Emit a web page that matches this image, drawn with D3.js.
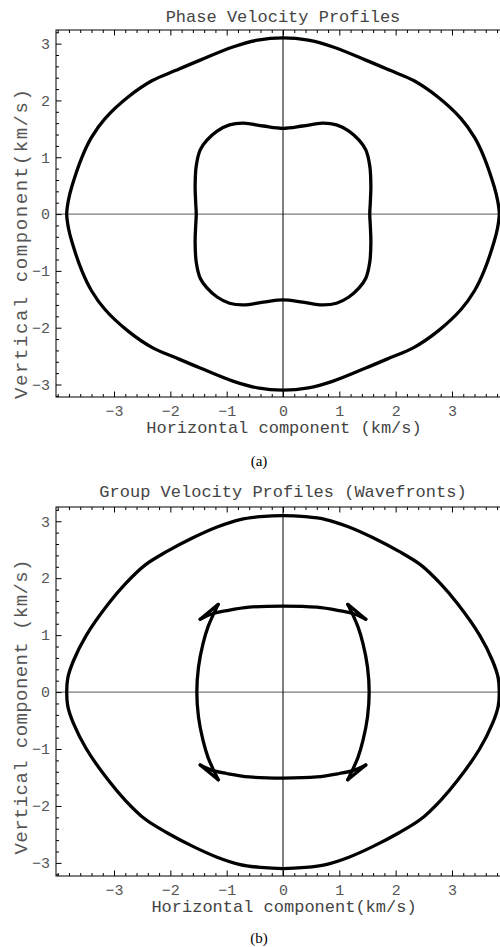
<!DOCTYPE html>
<html>
<head>
<meta charset="utf-8">
<script src="https://cdn.jsdelivr.net/npm/d3@7"></script>
<style>
  body { margin: 0; background: #fff; }
  svg { display: block; }
</style>
</head>
<body>
<div id="container"></div>
<script>
// tick values (km/s)
const majorTicks = [-3, -2, -1, 0, 1, 2, 3];
const minorTicks = d3.range(-40, 41, 2).map(d => d / 10);

// first quadrant of each profile, going from the vertical axis to the horizontal axis
const phaseOuter = [[0, 3.1], [0.45, 3.06], [0.89, 2.94], [1.47, 2.71], [1.9, 2.53], [2.32, 2.35],
  [2.75, 2.06], [3.16, 1.68], [3.4, 1.35], [3.57, 1.0], [3.75, 0.48], [3.81, 0.24], [3.84, 0]];
const phaseInner = [[0, 1.51], [0.35, 1.55], [0.7, 1.6], [0.95, 1.57], [1.17, 1.46], [1.35, 1.3],
  [1.47, 1.13], [1.54, 0.85], [1.56, 0.5], [1.55, 0.2], [1.54, 0]];
const groupOuter = [[0, 3.1], [0.4, 3.08], [0.76, 3.03], [1.17, 2.9], [1.6, 2.71], [2.06, 2.47],
  [2.45, 2.23], [2.8, 1.9], [3.1, 1.55], [3.49, 1.0], [3.72, 0.55], [3.82, 0.25], [3.84, 0]];
// wavefront with cusps: top branch ends at a cusp, side branch starts at the other cusp
const groupInnerTop = [[0, 1.51], [0.6, 1.49], [1.0, 1.43], [1.24, 1.38], [1.47, 1.28]];
const groupInnerSide = [[1.15, 1.54], [1.33, 1.15], [1.42, 0.85], [1.5, 0.44], [1.53, 0]];

const W = 500, H = 947;
const mono = '"Liberation Mono", "Courier New", monospace';
const svg = d3.select('#container').append('svg')
  .attr('width', W).attr('height', H)
  .attr('font-family', mono);

// build a closed loop from one quadrant
function loop(q) {
  const q4 = q.slice(0, -1).reverse().map(([x, y]) => [x, -y]);
  const q3 = q.slice(1).map(([x, y]) => [-x, -y]);
  const q2 = q.slice(0, -1).reverse().map(([x, y]) => [-x, y]).slice(0, -1);
  return [...q, ...q4, ...q3, ...q2];
}

const panels = [
  {
    title: 'Phase Velocity Profiles', titleY: 21.5,
    xLabel: 'Horizontal component (km/s)', yLabel: 'Vertical component(km/s)',
    caption: '(a)', top: 30, bottom: 397, yDomain: [-3.22, 3.24],
    xLabelY: 433, captionY: 466, yLabelY: 244, yLabelLen: 310,
    draw: (g, line) => {
      g.append('path').datum(loop(phaseOuter)).attr('d', line.curve(d3.curveCatmullRomClosed));
      g.append('path').datum(loop(phaseInner)).attr('d', line.curve(d3.curveCatmullRomClosed));
    }
  },
  {
    title: 'Group Velocity Profiles (Wavefronts)', titleY: 497,
    xLabel: 'Horizontal component(km/s)', yLabel: 'Vertical component (km/s)',
    caption: '(b)', top: 507, bottom: 876, yDomain: [-3.23, 3.25],
    xLabelY: 912, captionY: 943, yLabelY: 707, yLabelLen: 295,
    draw: (g, line) => {
      g.append('path').datum(loop(groupOuter)).attr('d', line.curve(d3.curveCatmullRomClosed));
      const top = [...groupInnerTop.slice(1).reverse().map(([x, y]) => [-x, y]), ...groupInnerTop];
      const side = [...groupInnerSide, ...groupInnerSide.slice(0, -1).reverse().map(([x, y]) => [x, -y])];
      const arcs = [
        top, top.map(([x, y]) => [x, -y]),
        side, side.map(([x, y]) => [-x, y])
      ];
      arcs.forEach(a => g.append('path').datum(a).attr('d', line.curve(d3.curveCatmullRom)));
      const tipA = groupInnerTop[groupInnerTop.length - 1];
      const tipB = groupInnerSide[0];
      [[1, 1], [-1, 1], [1, -1], [-1, -1]].forEach(([sx, sy]) => {
        g.append('path')
          .datum([[tipA[0] * sx, tipA[1] * sy], [tipB[0] * sx, tipB[1] * sy]])
          .attr('d', line.curve(d3.curveLinear));
      });
    }
  }
];

panels.forEach(p => {
  const x = d3.scaleLinear().domain([-4.03, 4.03]).range([56, 510]);
  const y = d3.scaleLinear().domain(p.yDomain).range([p.bottom, p.top]);
  const g = svg.append('g');

  // axes through the origin
  g.append('line').attr('x1', x(-4.03)).attr('x2', x(4.03)).attr('y1', y(0)).attr('y2', y(0))
    .attr('stroke', '#7a7a7a').attr('stroke-width', 1.3);
  g.append('line').attr('x1', x(0)).attr('x2', x(0)).attr('y1', p.top).attr('y2', p.bottom)
    .attr('stroke', '#000').attr('stroke-width', 1);

  // curves
  const line = d3.line().x(d => x(d[0])).y(d => y(d[1]));
  const curves = g.append('g').attr('fill', 'none').attr('stroke', '#000')
    .attr('stroke-width', 3.3).attr('stroke-linejoin', 'round').attr('stroke-linecap', 'round');
  p.draw(curves, line);

  // frame
  g.append('rect').attr('x', 56).attr('y', p.top).attr('width', 454).attr('height', p.bottom - p.top)
    .attr('fill', 'none').attr('stroke', '#000').attr('stroke-width', 1);

  // ticks pointing inward, labels on bottom and left only
  const fmt = d => d < 0 ? '\u2212' + Math.abs(d) : String(d);
  const styleAxis = a => {
    a.select('.domain').remove();
    a.selectAll('line').attr('stroke', '#000');
    a.selectAll('text').attr('fill', '#555').attr('font-size', 15).attr('font-family', mono);
  };
  const xMinor = minorTicks.filter(v => !majorTicks.includes(v));
  const yMinor = minorTicks.filter(v => v > p.yDomain[0] && v < p.yDomain[1] && !majorTicks.includes(v));

  g.append('g').attr('transform', `translate(0,${p.bottom})`)
    .call(d3.axisBottom(x).tickValues(majorTicks).tickSize(-5.5).tickPadding(8).tickFormat(fmt))
    .call(styleAxis);
  g.append('g').attr('transform', `translate(0,${p.bottom})`)
    .call(d3.axisBottom(x).tickValues(xMinor).tickSize(-3).tickFormat(''))
    .call(styleAxis);
  g.append('g').attr('transform', `translate(0,${p.top})`)
    .call(d3.axisTop(x).tickValues(majorTicks).tickSize(-5.5).tickFormat(''))
    .call(styleAxis);
  g.append('g').attr('transform', `translate(0,${p.top})`)
    .call(d3.axisTop(x).tickValues(xMinor).tickSize(-3).tickFormat(''))
    .call(styleAxis);
  g.append('g').attr('transform', 'translate(56,0)')
    .call(d3.axisLeft(y).tickValues(majorTicks).tickSize(-5.5).tickPadding(6).tickFormat(fmt))
    .call(styleAxis);
  g.append('g').attr('transform', 'translate(56,0)')
    .call(d3.axisLeft(y).tickValues(yMinor).tickSize(-3).tickFormat(''))
    .call(styleAxis);

  // texts
  g.append('text').attr('x', 283).attr('y', p.titleY).attr('text-anchor', 'middle')
    .attr('font-size', 17).attr('fill', '#444').text(p.title);
  g.append('text').attr('x', 284).attr('y', p.xLabelY).attr('text-anchor', 'middle')
    .attr('font-size', 17).attr('fill', '#444').text(p.xLabel);
  g.append('text').attr('transform', `translate(27,${p.yLabelY}) rotate(-90)`)
    .attr('text-anchor', 'middle').attr('font-size', 19).attr('fill', '#555')
    .attr('textLength', p.yLabelLen).attr('lengthAdjust', 'spacing').text(p.yLabel);
  g.append('text').attr('x', 259).attr('y', p.captionY).attr('text-anchor', 'middle')
    .attr('font-family', '"Liberation Serif", "Times New Roman", serif')
    .attr('font-size', 15).attr('fill', '#000').text(p.caption);
});
</script>
</body>
</html>
